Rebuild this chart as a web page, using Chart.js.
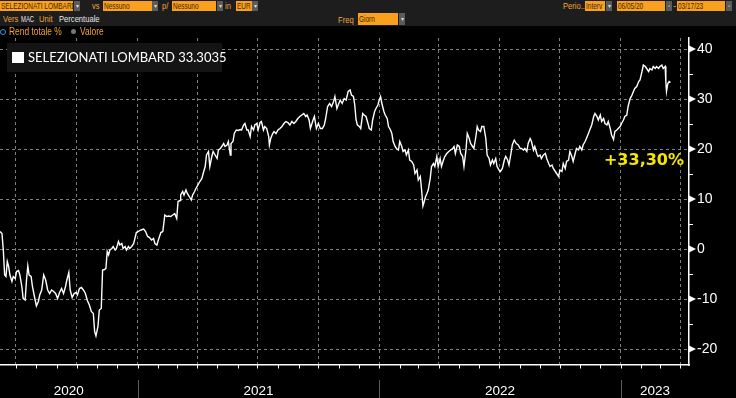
<!DOCTYPE html>
<html lang="it">
<head>
  <meta charset="UTF-8">
  <title>SELEZIONATI LOMBARD - Rend totale %</title>
  <script src="https://cdn.jsdelivr.net/npm/chart.js"></script>
  <style>
    html, body { margin: 0; padding: 0; background: #000; }
    body { width: 736px; height: 398px; overflow: hidden; position: relative; font-family: "Liberation Sans", Arial, sans-serif; }
    #grafico { position: absolute; left: 0; top: 0; }
    .barra { position: absolute; left: 0; top: 0; width: 736px; height: 26px; background: #1d1d1d; }
    .box { position: absolute; height: 10px; background: #f9a11c; color: #3d2600; font-size: 9.5px; line-height: 10px; padding-left: 1px; white-space: nowrap; overflow: hidden; }
    .dd { position: absolute; width: 6px; height: 10px; background: #5b5b5b; color: #ddd; font-size: 6px; line-height: 10px; text-align: center; }
    .lbl { position: absolute; font-size: 9.5px; line-height: 10px; color: #f2a23a; white-space: nowrap; }
    .bianco { color: #e8e8e8; }
    .t { display: inline-block; transform-origin: 0 50%; transform: scaleX(0.68); }
    .lbl .t { transform: scaleX(0.8); }
    .lbl .stretto { transform: scaleX(0.62); }
    .riga3 { font-size: 10.5px; line-height: 11px; }
    .pallino { position: absolute; width: 4px; height: 4px; border-radius: 50%; }
  </style>
</head>
<body>
  <canvas id="grafico" width="736" height="398"></canvas>

  <div class="barra"></div>
  <!-- riga 1 -->
  <div class="box" style="left:0;top:1px;width:72px"><span class="t">SELEZIONATI LOMBARD</span></div><div class="dd" style="left:74px;top:1px">▾</div>
  <div class="lbl" style="left:92px;top:1px"><span class="t">vs</span></div>
  <div class="box" style="left:103px;top:1px;width:48px"><span class="t">Nessuno</span></div><div class="dd" style="left:152px;top:1px">▾</div>
  <div class="lbl" style="left:162px;top:1px"><span class="t">p/</span></div>
  <div class="box" style="left:172px;top:1px;width:43px"><span class="t">Nessuno</span></div><div class="dd" style="left:217px;top:1px">▾</div>
  <div class="lbl" style="left:225px;top:1px"><span class="t">in</span></div>
  <div class="box" style="left:236px;top:1px;width:15px"><span class="t">EUR</span></div><div class="dd" style="left:252px;top:1px">▾</div>
  <div class="lbl" style="left:563px;top:1px"><span class="t">Perio..</span></div>
  <div class="box" style="left:585px;top:1px;width:19px"><span class="t">Interv</span></div><div class="dd" style="left:606px;top:1px">▾</div>
  <div class="box" style="left:617px;top:1px;width:47px"><span class="t">06/05/20</span></div><div class="dd" style="left:666px;top:1px">▫</div>
  <div class="lbl" style="left:673px;top:1px">-</div>
  <div class="box" style="left:677px;top:1px;width:47px"><span class="t">03/17/23</span></div><div class="dd" style="left:726px;top:1px">▫</div>
  <!-- riga 2 -->
  <div class="lbl" style="left:3px;top:14px"><span class="t">Vers</span></div>
  <div class="lbl bianco" style="left:21px;top:14px"><span class="t stretto">MAC</span></div>
  <div class="lbl" style="left:39px;top:14px"><span class="t">Unit</span></div>
  <div class="lbl bianco" style="left:59px;top:14px"><span class="t">Percentuale</span></div>
  <div class="lbl" style="left:338px;top:15px"><span class="t">Freq</span></div>
  <div class="box" style="left:358px;top:13px;width:39px;height:12px;line-height:12px"><span class="t">Giorn</span></div><div class="dd" style="left:399px;top:13px;height:12px;line-height:12px">▾</div>
  <!-- riga 3 -->
  <div class="pallino" style="left:0;top:29px;border:1px solid #3f8fe0"></div>
  <div class="lbl riga3" style="left:9px;top:26px"><span class="t">Rend totale %</span></div>
  <div class="pallino" style="left:71px;top:29px;width:5px;height:5px;background:#777"></div>
  <div class="lbl riga3" style="left:80px;top:26px"><span class="t">Valore</span></div>

  <script>
    const nomeSerie = 'SELEZIONATI LOMBARD';
    const ultimoValore = '33.3035';
    const variazione = '+33,30%';
    const dataBase = Date.UTC(2020, 5, 7); // giorno 0 della serie
    const giornoFine = 1041;               // fine asse (circa 10/04/2023)

    // giorni dalla data base
    const giorni = [
      0,3,5,7,9,11,13,15,18,20,23,25,28,30,33,35,38,40,42,44,47,49,52,55,58,60,63,66,69,72,
      75,78,81,84,87,90,93,96,99,101,104,106,109,112,115,117,120,123,126,129,132,135,138,141,143,145,148,150,153,155,
      158,160,162,164,166,169,171,174,176,179,181,184,186,189,191,194,196,199,202,206,209,213,217,220,223,226,229,232,234,237,
      240,243,246,249,252,255,258,261,264,267,269,272,
      273,276,278,281,283,286,289,291,294,296,299,302,305,307,310,312,315,317,320,322,325,328,330,333,335,338,340,343,345,348,
      349,352,354,357,360,363,365,368,370,373,375,378,380,383,385,388,390,393,395,398,400,403,406,407,409,412,414,417,420,423,
      426,429,432,435,438,441,444,447,450,453,456,459,462,464,467,469,473,475,478,481,484,487,490,492,495,498,501,504,506,509,
      511,514,517,520,523,526,529,
      531,534,536,538,540,543,545,548,550,553,556,558,561,563,566,568,571,573,575,577,580,582,585,587,590,592,594,597,599,602,
      604,607,609,612,614,617,619,622,625,627,630,632,635,637,639,641,643,645,647,650,652,655,657,660,662,665,667,670,672,675,
      678,681,684,686,688,691,694,696,699,701,704,706,709,711,714,716,719,721,723,726,728,731,734,736,739,741,744,746,749,751,
      754,756,759,762,764,767,769,772,774,777,780,783,786,
      788,791,793,796,798,801,803,806,808,811,813,816,818,821,824,826,829,831,834,836,839,841,844,846,849,851,854,856,859,861,
      864,866,869,871,874,876,879,881,884,886,889,891,894,897,899,902,904,907,909,912,914,917,919,922,924,927,929,932,934,937,
      939,942,944,947,949,952,954,957,959,962,965,967,970,972,975,977,980,982,985,987,990,992,995,997,1000,1002,1005,1006,1007,1009,
      1011,1013
    ];

    // rendimento totale %
    const rendimento = [
      3.5,3.1,-0.2,-5.2,-5.5,-2.5,-3.5,-5.2,-6.5,-5.5,-5.9,-4.5,-4.3,-5.2,-7.5,-9.9,-10.2,-6.3,-3.4,-5.2,-5.5,-7.5,-9.5,-11.4,-10.5,-9.2,-8.2,-5.2,-6.2,-8.2,
      -8.9,-8.2,-8.5,-8.9,-9.9,-8.7,-7.9,-8.9,-7.5,-6.2,-4.7,-8.2,-9.7,-8.9,-8.7,-9.2,-7.9,-7.7,-8.2,-8.9,-10.3,-11.2,-12.5,-12.9,-16.5,-17.4,-15.5,-12.2,-11.9,-4.2,
      -4.1,-3.9,-0.5,-1.2,-0.2,0.1,0.5,-0.2,0.1,1.5,0.8,1.1,0.1,0.5,-0.2,0.5,0.1,0.5,1.1,3.3,3.5,3.8,4.0,3.5,2.5,2.3,1.8,2.1,1.1,0.8,
      2.1,3.3,3.5,6.8,6.5,6.6,6.5,6.8,7.1,6.1,9.5,9.7,
      10.8,11.5,10.8,11.8,11.1,10.5,9.8,10.8,11.5,12.1,12.8,13.5,14.1,15.1,16.5,18.8,19.5,16.5,18.5,19.5,18.8,18.1,19.8,20.1,20.5,21.1,20.5,20.8,21.5,18.8,
      21.1,21.5,23.1,23.8,23.7,23.9,23.8,24.8,25.1,23.8,23.8,22.5,24.5,23.8,24.8,25.1,23.8,25.3,25.5,23.8,24.5,24.1,22.5,20.8,22.1,23.1,23.5,23.1,23.8,24.1,
      24.5,25.1,25.5,25.3,24.8,25.5,25.1,25.5,26.1,26.5,26.8,27.1,26.5,26.8,25.8,24.1,25.8,26.5,24.1,25.1,24.1,24.1,24.8,26.1,28.5,29.1,28.5,29.5,30.5,28.1,
      28.8,29.8,29.1,30.1,29.8,31.5,31.8,
      30.8,30.5,28.8,25.8,24.8,24.5,24.1,27.1,26.8,26.5,25.1,24.1,23.8,25.8,27.5,28.1,28.8,29.8,30.5,29.1,27.5,26.8,26.1,24.5,23.8,23.1,21.5,20.5,20.1,19.8,
      21.5,20.5,19.5,19.8,18.8,19.8,17.8,17.5,16.8,15.1,15.8,13.8,14.5,11.8,8.6,9.5,10.5,11.1,11.8,14.1,16.5,17.1,16.5,18.5,16.5,18.1,16.5,17.8,18.5,19.1,
      19.5,19.8,20.1,20.5,19.1,20.8,20.5,19.1,18.5,16.5,19.8,23.1,22.1,21.1,20.5,20.1,22.5,24.5,23.8,23.5,24.5,24.5,22.1,18.8,18.1,16.8,17.8,17.1,18.1,16.5,
      15.8,15.5,16.1,17.8,18.5,17.8,16.8,19.1,20.8,21.8,21.1,20.8,20.1,
      20.1,19.8,20.1,19.5,21.1,22.1,21.5,19.8,20.5,19.1,18.5,18.8,18.1,18.8,19.1,18.1,17.1,16.5,16.8,16.1,15.5,15.1,14.5,15.8,15.5,17.1,16.1,17.5,17.8,19.5,
      18.5,17.5,19.1,20.1,19.8,20.5,19.8,20.8,21.5,22.1,23.1,23.8,24.8,26.5,27.1,26.5,25.8,26.8,25.5,26.1,25.1,24.8,25.5,24.1,22.8,21.9,23.5,23.8,24.1,24.5,
      25.1,25.8,26.5,26.8,28.5,30.1,30.5,31.5,32.1,32.5,33.5,33.8,35.5,36.8,36.5,36.1,35.5,36.1,35.8,36.5,36.1,36.5,36.1,36.5,36.8,36.1,36.5,33.5,31.5,33.1,
      33.5,33.3
    ];

    const tickY = [-20, -10, 0, 10, 20, 30, 40];
    const anni = ['2020', '2021', '2022', '2023'];
    const yMin = -23.2, yMax = 42.2;

    // giorni dalla base per una data
    const gg = (a, m) => Math.round((Date.UTC(a, m, 1) - dataBase) / 864e5);
    const dentro = d => d >= 0 && d <= giornoFine;

    const inizioMesi = [], inizioTrimestri = [];
    for (let a = 2020; a <= 2023; a++) {
      for (let m = 0; m < 12; m++) {
        const d = gg(a, m);
        if (!dentro(d)) continue;
        inizioMesi.push(d);
        if (m % 3 === 0) inizioTrimestri.push(d);
      }
    }
    const inizioAnni = anni.map(a => gg(+a, 0));
    const centriAnni = anni.map((a, i) => {
      const da = Math.max(0, inizioAnni[i]);
      const a2 = Math.min(giornoFine, gg(+a + 1, 0));
      return (da + a2) / 2;
    });

    const punti = giorni.map((g, i) => ({ x: g, y: rendimento[i] }));

    const decorazioni = {
      id: 'decorazioni',
      afterDraw(chart) {
        const { ctx, chartArea, scales: { x, y } } = chart;
        ctx.save();
        ctx.fillStyle = '#fff';
        ctx.strokeStyle = '#fff';
        ctx.lineWidth = 1;
        // triangoli e tacche secondarie asse destro
        tickY.forEach(v => {
          const py = y.getPixelForValue(v);
          ctx.beginPath();
          ctx.moveTo(chartArea.right, py - 3.5);
          ctx.lineTo(chartArea.right + 7, py);
          ctx.lineTo(chartArea.right, py + 3.5);
          ctx.closePath();
          ctx.fill();
          if (v + 5 < yMax) {
            const pm = Math.round(y.getPixelForValue(v + 5)) + 0.5;
            ctx.beginPath();
            ctx.moveTo(chartArea.right, pm);
            ctx.lineTo(chartArea.right + 4, pm);
            ctx.stroke();
          }
        });
        // tacche mensili
        ctx.beginPath();
        inizioMesi.forEach(d => {
          const px = Math.round(x.getPixelForValue(d)) + 0.5;
          ctx.moveTo(px, chartArea.bottom);
          ctx.lineTo(px, chartArea.bottom + 3.5);
        });
        ctx.stroke();
        // separatori anni
        ctx.strokeStyle = '#5c5c5c';
        ctx.beginPath();
        inizioAnni.forEach(d => {
          if (d <= 0 || d >= giornoFine) return;
          const px = Math.round(x.getPixelForValue(d)) + 0.5;
          ctx.moveTo(px, chartArea.bottom + 15);
          ctx.lineTo(px, chart.height);
        });
        ctx.stroke();
        // riquadro legenda
        ctx.fillStyle = '#141414';
        ctx.fillRect(7, 43, 215, 29);
        ctx.fillStyle = '#fff';
        ctx.fillRect(12, 52, 12, 11);
        ctx.font = '13px Lato, "Liberation Sans", Arial, sans-serif';
        ctx.textBaseline = 'middle';
        ctx.textAlign = 'left';
        ctx.fillText(nomeSerie + ' ' + ultimoValore, 28, 58);
        // variazione
        ctx.fillStyle = '#f6e600';
        ctx.font = 'bold 16px "DejaVu Sans", sans-serif';
        ctx.textAlign = 'right';
        ctx.fillText(variazione, chartArea.right - 5, y.getPixelForValue(17.7));
        ctx.restore();
      }
    };

    new Chart(document.getElementById('grafico'), {
      type: 'line',
      data: {
        datasets: [{
          label: nomeSerie,
          data: punti,
          borderColor: '#ffffff',
          borderWidth: 1.4,
          pointRadius: 0,
          tension: 0,
          fill: false
        }]
      },
      options: {
        responsive: false,
        animation: false,
        devicePixelRatio: 1,
        layout: { padding: { top: 38, left: 0, right: 0, bottom: 0 } },
        plugins: { legend: { display: false }, tooltip: { enabled: false } },
        scales: {
          x: {
            type: 'linear',
            min: 0,
            max: giornoFine,
            afterBuildTicks: s => { s.ticks = inizioTrimestri.map(v => ({ value: v })); },
            grid: { color: '#808080', lineWidth: 1, drawTicks: false },
            border: { display: true, color: '#ffffff', width: 1.5, dash: [3, 3] },
            ticks: { display: false },
            afterFit: s => { s.height = 6; }
          },
          x2: {
            type: 'linear',
            position: 'bottom',
            min: 0,
            max: giornoFine,
            afterBuildTicks: s => { s.ticks = centriAnni.map(v => ({ value: v })); },
            grid: { display: false, drawTicks: false },
            border: { display: false },
            ticks: {
              color: '#ffffff',
              font: { family: '"Liberation Sans", Arial, sans-serif', size: 13.5 },
              padding: 12,
              maxRotation: 0,
              autoSkip: false,
              callback: (v, i) => anni[i]
            },
            afterFit: s => { s.height = 27; }
          },
          y: {
            position: 'right',
            min: yMin,
            max: yMax,
            afterBuildTicks: s => { s.ticks = tickY.map(v => ({ value: v })); },
            grid: { color: '#808080', lineWidth: 1, drawTicks: false },
            border: { display: true, color: '#ffffff', width: 1.5, dash: [3, 3] },
            ticks: {
              color: '#ffffff',
              font: { family: '"Liberation Sans", Arial, sans-serif', size: 14 },
              padding: 8,
              callback: v => String(v)
            },
            afterFit: s => { s.width = 47; }
          }
        }
      },
      plugins: [decorazioni]
    });
  </script>
</body>
</html>
